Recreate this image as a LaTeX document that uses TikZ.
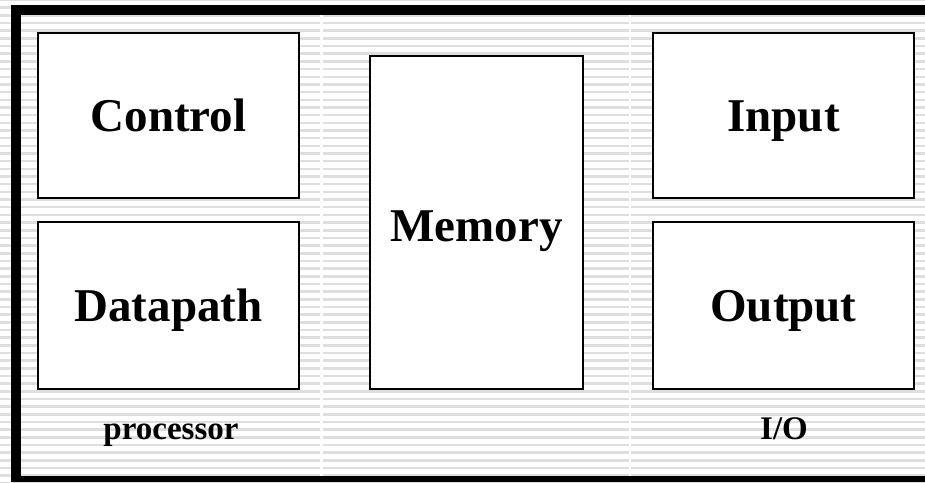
\documentclass[tikz,border=0pt]{standalone}
\usepackage{fontspec}
\setmainfont{Liberation Serif}
\begin{document}
\begin{tikzpicture}[x=1pt,y=-1pt,
  unitbox/.style={draw=black,line width=2.5pt,fill=white,inner sep=0pt,outer sep=0pt,
    text height=31pt,text depth=0pt,
    font=\fontsize{47}{50}\selectfont\bfseries},
  grouplabel/.style={inner sep=0pt,anchor=base,font=\fontsize{33}{35}\selectfont\bfseries},
  stripe/.style={fill=black!13}]
\useasboundingbox (0,0) rectangle (925,482);
\clip (0,0) rectangle (925,482);
\fill[white] (0,0) rectangle (925,482);
\foreach \i in {0,...,63} {
  \fill[stripe] (0,{-1.2+\i*7.67}) rectangle (925,{-1.2+\i*7.67+2.6});
}
% separators
\fill[white] (320,15) rectangle (322.5,476);
\fill[white] (628.5,15) rectangle (631,476);
% frame
\fill[black] (11,5) rectangle (21,482);
\fill[black] (11,5) rectangle (925,15);
\fill[black] (11,476) rectangle (925,482);
% units
\node[unitbox,minimum width=261pt,minimum height=165pt] (control) at (168.5,115.5) {Control};
\node[unitbox,minimum width=261pt,minimum height=167pt] (datapath) at (168.5,305.5) {Datapath};
\node[unitbox,minimum width=213pt,minimum height=333pt] (memory) at (476.5,222.5) {\raisebox{-3pt}{Memory}};
\node[unitbox,minimum width=261pt,minimum height=165pt] (input) at (783.5,115.5) {Input};
\node[unitbox,minimum width=261pt,minimum height=167pt] (output) at (783.5,305.5) {Output};
\node[grouplabel] (proc) at (171,439) {processor};
\node[grouplabel] (io) at (784,439) {I/O};
\end{tikzpicture}
\end{document}
